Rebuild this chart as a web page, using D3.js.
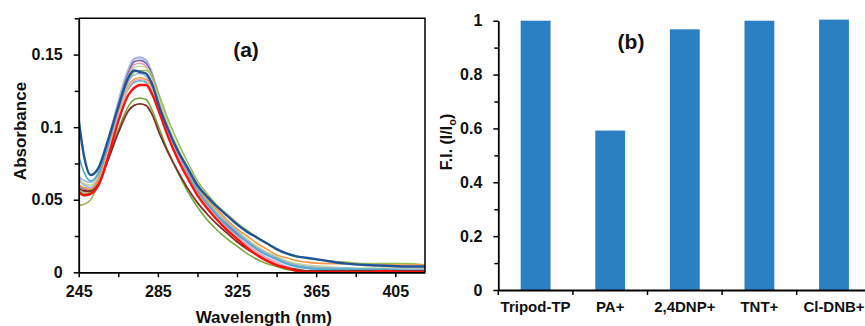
<!DOCTYPE html>
<html><head><meta charset="utf-8">
<script src="https://cdn.jsdelivr.net/npm/d3@7"></script>
<style>
html,body{margin:0;padding:0;background:#fff;}
svg{display:block;font-family:"Liberation Sans",Arial,sans-serif;font-weight:bold;}
</style></head>
<body>
<svg id="c" width="865" height="326"></svg>
<script>
// ---------- Panel (a) data ----------
const wavelengths = [245,248,251,255,260,265,270,273,276,279,282,286,290,295,300,305,310,315,320,325,330,335,340,345,350,355,360,370,380,390,400,410,420];
const seriesNames = ["lavender","purple","pink","lightgreen","green","lightblue","orange","cyan","salmon","olive","brown","red","darkblue"];
const seriesColors = ["#aab8e4","#8064a2","#e59ac0","#c3d69b","#9bbb59","#95b3d7","#f79646","#4bacc6","#e6b0ae","#77a83b","#7f3327","#ff1010","#1f5597"];
const s_lavender   = [0.064,0.060,0.058,0.066,0.090,0.117,0.139,0.147,0.148,0.146,0.137,0.118,0.101,0.084,0.070,0.058,0.048,0.040,0.033,0.027,0.021,0.016,0.012,0.009,0.006,0.004,0.003,0.002,0.002,0.002,0.001,0.001,0.001];
const s_purple     = [0.060,0.057,0.056,0.064,0.088,0.115,0.137,0.145,0.146,0.144,0.136,0.117,0.100,0.083,0.069,0.057,0.048,0.040,0.033,0.027,0.022,0.017,0.013,0.010,0.007,0.005,0.004,0.003,0.003,0.002,0.002,0.002,0.002];
const s_pink       = [0.058,0.056,0.055,0.062,0.086,0.113,0.135,0.143,0.144,0.142,0.134,0.116,0.099,0.082,0.068,0.056,0.046,0.038,0.031,0.025,0.019,0.014,0.010,0.007,0.004,0.002,0.001,0.000,0.000,0.000,0.000,0.000,0.000];
const s_lightgreen = [0.063,0.061,0.060,0.067,0.090,0.115,0.135,0.141,0.142,0.141,0.135,0.118,0.102,0.086,0.072,0.060,0.050,0.042,0.035,0.029,0.023,0.018,0.014,0.011,0.008,0.006,0.005,0.004,0.003,0.003,0.003,0.003,0.003];
const s_green      = [0.046,0.047,0.050,0.061,0.085,0.111,0.131,0.138,0.139,0.139,0.135,0.121,0.106,0.090,0.076,0.063,0.054,0.046,0.040,0.034,0.029,0.024,0.020,0.016,0.013,0.011,0.010,0.008,0.007,0.006,0.006,0.006,0.005];
const s_lightblue  = [0.066,0.063,0.062,0.069,0.090,0.113,0.131,0.136,0.137,0.135,0.128,0.112,0.097,0.081,0.068,0.057,0.048,0.040,0.034,0.028,0.022,0.017,0.013,0.010,0.007,0.005,0.004,0.003,0.003,0.002,0.002,0.002,0.002];
const s_orange     = [0.060,0.058,0.057,0.064,0.086,0.109,0.128,0.133,0.134,0.133,0.128,0.114,0.099,0.084,0.071,0.059,0.050,0.043,0.036,0.030,0.025,0.020,0.016,0.012,0.010,0.008,0.007,0.006,0.006,0.005,0.005,0.005,0.005];
const s_cyan       = [0.080,0.068,0.063,0.068,0.088,0.109,0.126,0.131,0.132,0.131,0.125,0.110,0.096,0.080,0.067,0.056,0.047,0.039,0.032,0.026,0.021,0.016,0.012,0.009,0.006,0.004,0.003,0.002,0.002,0.002,0.002,0.001,0.001];
const s_salmon     = [0.057,0.055,0.055,0.062,0.084,0.108,0.127,0.132,0.133,0.132,0.126,0.111,0.096,0.080,0.066,0.054,0.045,0.037,0.030,0.024,0.018,0.013,0.009,0.006,0.003,0.001,0.000,0.000,0.000,0.000,0.000,0.000,0.000];
const s_olive      = [0.056,0.054,0.055,0.060,0.078,0.098,0.114,0.119,0.120,0.119,0.112,0.098,0.084,0.069,0.056,0.045,0.036,0.029,0.023,0.018,0.013,0.009,0.006,0.004,0.002,0.001,0.000,0.000,0.000,0.000,0.000,0.000,0.000];
const s_brown      = [0.058,0.056,0.056,0.061,0.078,0.096,0.111,0.115,0.116,0.115,0.109,0.095,0.083,0.070,0.058,0.048,0.040,0.033,0.027,0.021,0.016,0.012,0.008,0.005,0.003,0.002,0.001,0.001,0.001,0.001,0.001,0.001,0.001];
const s_red        = [0.055,0.053,0.054,0.060,0.080,0.104,0.122,0.127,0.129,0.129,0.123,0.109,0.094,0.078,0.065,0.053,0.044,0.036,0.029,0.023,0.017,0.012,0.008,0.005,0.003,0.001,0.000,0.000,0.000,0.000,0.001,0.000,0.000];
const s_darkblue   = [0.105,0.078,0.067,0.072,0.092,0.114,0.134,0.139,0.138,0.137,0.130,0.113,0.099,0.084,0.072,0.060,0.052,0.045,0.039,0.033,0.028,0.024,0.020,0.016,0.013,0.011,0.010,0.008,0.006,0.005,0.0045,0.004,0.004];
const seriesValues = [s_lavender,s_purple,s_pink,s_lightgreen,s_green,s_lightblue,s_orange,s_cyan,s_salmon,s_olive,s_brown,s_red,s_darkblue];
const seriesWidths = [2.6,1.6,1.6,1.6,1.6,1.6,1.6,1.6,1.6,1.6,1.8,2.4,2.4];
const aXTicks = [245,285,325,365,405];
const aXMinor = [265,305,345,385];
const aYTicks = [0,0.05,0.1,0.15];
const aYMinor = [0.025,0.075,0.125,0.175];

// ---------- Panel (b) data ----------
const categories = ["Tripod-TP","PA+","2,4DNP+","TNT+","Cl-DNB+"];
const fiValues = [1.0,0.592,0.968,1.0,1.004];
const bYTicks = [0,0.2,0.4,0.6,0.8,1];
const bYMinor = [0.1,0.3,0.5,0.7,0.9];

const svg = d3.select("#c");
const fmt = d => d === 0 ? "0" : String(d);

// ===== Panel (a) =====
const ax = {l:78.7, r:425, t:18.3, b:272.3};
const xA = d3.scaleLinear().domain([245,420]).range([ax.l, ax.r]);
const yA = d3.scaleLinear().domain([0,0.175]).range([ax.b, ax.t]);

svg.append("defs").append("clipPath").attr("id","clipA")
  .append("rect").attr("x",ax.l).attr("y",ax.t).attr("width",ax.r-ax.l).attr("height",ax.b-ax.t);

const line = d3.line().x((d,i)=>xA(wavelengths[i])).y(d=>yA(d)).curve(d3.curveMonotoneX);
const gLines = svg.append("g").attr("clip-path","url(#clipA)");
seriesValues.forEach((vals,k)=>{
  gLines.append("path").attr("d",line(vals)).attr("fill","none")
    .attr("stroke",seriesColors[k]).attr("stroke-width",seriesWidths[k]).attr("stroke-linejoin","round");
});

// frame (top & right)
svg.append("path").attr("d",`M${ax.l},${ax.t}H${ax.r}V${ax.b}`).attr("fill","none").attr("stroke","#000").attr("stroke-width",1.5);

// axes
const gxA = svg.append("g").attr("transform",`translate(0,${ax.b})`)
  .call(d3.axisBottom(xA).tickValues(aXTicks).tickSize(5).tickSizeOuter(0).tickPadding(8).tickFormat(d3.format("d")));
svg.append("g").attr("transform",`translate(0,${ax.b})`)
  .call(d3.axisBottom(xA).tickValues(aXMinor).tickSize(5).tickSizeOuter(0).tickFormat(""))
  .select(".domain").remove();
const gyA = svg.append("g").attr("transform",`translate(${ax.l},0)`)
  .call(d3.axisLeft(yA).tickValues(aYTicks).tickSize(5).tickSizeOuter(0).tickPadding(11).tickFormat(fmt));
svg.append("g").attr("transform",`translate(${ax.l},0)`)
  .call(d3.axisLeft(yA).tickValues(aYMinor).tickSize(4).tickSizeOuter(0).tickFormat(""))
  .select(".domain").remove();

svg.selectAll(".domain").attr("stroke","#000").attr("stroke-width",1.8);
svg.selectAll(".tick line").attr("stroke","#000").attr("stroke-width",1.5);
gxA.selectAll("text").attr("font-size",16).attr("font-weight","bold").attr("font-family","Liberation Sans, Arial, sans-serif").attr("fill","#111");
gyA.selectAll("text").attr("font-size",16).attr("font-weight","bold").attr("font-family","Liberation Sans, Arial, sans-serif").attr("fill","#111");

svg.append("text").attr("x",(ax.l+ax.r)/2+12).attr("y",323).attr("text-anchor","middle")
  .attr("font-size",17).attr("fill","#111").text("Wavelength (nm)");
svg.append("text").attr("transform",`translate(26,131) rotate(-90)`).attr("text-anchor","middle")
  .attr("font-size",17).attr("fill","#111").text("Absorbance");
svg.append("text").attr("x",246).attr("y",57).attr("text-anchor","middle")
  .attr("font-size",21).attr("fill","#111").text("(a)");

// ===== Panel (b) =====
const bx = {l:498.3, r:871.3, t:20.7, b:290};
const xB = d3.scaleBand().domain(categories).range([bx.l,bx.r]).paddingInner(0.6).paddingOuter(0.3);
const yB = d3.scaleLinear().domain([0,1]).range([bx.b,bx.t]);

svg.append("g").selectAll("rect").data(categories).join("rect")
  .attr("x",d=>xB(d)).attr("width",xB.bandwidth())
  .attr("y",(d,i)=>yB(fiValues[i])).attr("height",(d,i)=>yB(0)-yB(fiValues[i]))
  .attr("fill","#2a80c3");

const gyB = svg.append("g").attr("transform",`translate(${bx.l},0)`)
  .call(d3.axisLeft(yB).tickValues(bYTicks).tickSize(5).tickSizeOuter(0).tickPadding(11).tickFormat(fmt));
svg.append("g").attr("transform",`translate(${bx.l},0)`)
  .call(d3.axisLeft(yB).tickValues(bYMinor).tickSize(4).tickSizeOuter(0).tickFormat(""))
  .select(".domain").remove();
const gxB = svg.append("g").attr("transform",`translate(0,${bx.b})`)
  .call(d3.axisBottom(xB).tickSize(0).tickSizeOuter(0).tickPadding(11));
// category boundary ticks
const bounds = categories.map(c => xB(c) - xB.step()*xB.paddingInner()/2 - (categories.indexOf(c)===0 ? xB.step()*(xB.paddingOuter()-xB.paddingInner()/2) : 0));
svg.append("g").selectAll("line").data(bounds).join("line")
  .attr("x1",d=>d).attr("x2",d=>d).attr("y1",bx.b).attr("y2",bx.b+5)
  .attr("stroke","#000").attr("stroke-width",1.5);

svg.selectAll(".domain").attr("stroke","#000").attr("stroke-width",1.8);
svg.selectAll(".tick line").attr("stroke","#000").attr("stroke-width",1.5);
gyB.selectAll("text").attr("font-size",16).attr("font-weight","bold").attr("font-family","Liberation Sans, Arial, sans-serif").attr("fill","#111");
gxB.selectAll("text").attr("font-size",15).attr("font-weight","bold").attr("font-family","Liberation Sans, Arial, sans-serif").attr("fill","#111");

const fi = svg.append("text").attr("transform",`translate(452,142) rotate(-90)`).attr("text-anchor","middle")
  .attr("font-size",16).attr("fill","#111");
fi.append("tspan").text("F.I. (I/I");
fi.append("tspan").attr("font-size",11).attr("dy",4).text("o");
fi.append("tspan").attr("dy",-4).text(")");
svg.append("text").attr("x",631).attr("y",49).attr("text-anchor","middle")
  .attr("font-size",21).attr("fill","#111").text("(b)");
</script>
</body></html>
